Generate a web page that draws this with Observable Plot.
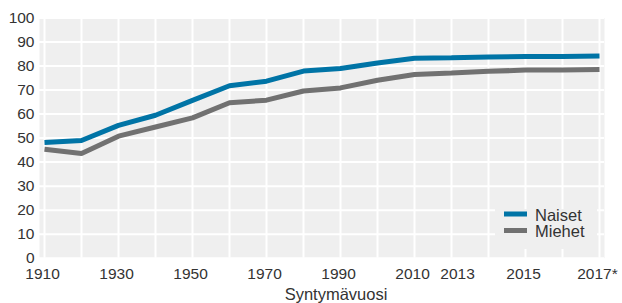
<!DOCTYPE html>
<html>
<head>
<meta charset="utf-8">
<script src="https://cdn.jsdelivr.net/npm/d3@7"></script>
<script src="https://cdn.jsdelivr.net/npm/@observablehq/plot@0.6"></script>
<style>
  html, body { margin: 0; padding: 0; background: #fff; }
  #chart svg { display: block; font-family: "Helvetica Neue", Helvetica, "Liberation Sans", Arial, sans-serif; }
</style>
</head>
<body>
<div id="chart"></div>
<script>
const years = ["1910","1920","1930","1940","1950","1960","1970","1980","1990","2000","2010","2013","2014","2015","2016","2017"];
const naiset = [48.2, 49.0, 55.3, 59.5, 65.7, 71.8, 73.7, 77.9, 79.0, 81.3, 83.2, 83.4, 83.8, 84.0, 84.0, 84.2];
const miehet = [45.4, 43.6, 50.8, 54.6, 58.4, 64.7, 65.8, 69.6, 70.9, 74.1, 76.5, 77.1, 77.8, 78.3, 78.3, 78.6];
const seriesNames = ["Naiset", "Miehet"];
const seriesColors = ["#0074a6", "#717171"];
const xTickLabels = ["1910","1930","1950","1970","1990","2010","2015","2017"];
const xTickShifted = ["2013"];
const yTicks = [0,10,20,30,40,50,60,70,80,90,100];
const xTitle = "Syntymävuosi";

const data = [];
years.forEach((y, i) => {
  data.push({year: y, value: naiset[i], series: seriesNames[0]});
});
years.forEach((y, i) => {
  data.push({year: y, value: miehet[i], series: seriesNames[1]});
});

const fmtX = d => d === "2017" ? "2017*" : d;

const chart = Plot.plot({
  width: 622,
  height: 303,
  marginLeft: 39,
  marginRight: 18,
  marginTop: 17.5,
  marginBottom: 45.3,
  style: {fontSize: "15px", color: "#333", background: "#fff"},
  x: {type: "point", domain: years, padding: 0, label: null},
  y: {domain: [0, 100], label: null},
  color: {domain: seriesNames, range: seriesColors},
  marks: [
    Plot.frame({fill: "#efefef", stroke: null}),
    Plot.gridX({stroke: "#fff", strokeOpacity: 1, strokeWidth: 2}),
    Plot.gridY(yTicks, {stroke: "#fff", strokeOpacity: 1, strokeWidth: 2}),
    Plot.axisY(yTicks, {tickSize: 0, tickPadding: 5, fontSize: 15.5, fill: "#333"}),
    Plot.axisX(xTickLabels, {tickSize: 0, tickPadding: 10, dx: -2, tickFormat: fmtX, fontSize: 15.5, fill: "#333"}),
    Plot.axisX(xTickShifted, {tickSize: 0, tickPadding: 10, dx: 6, fontSize: 15.5, fill: "#333"}),
    Plot.line(data, {x: "year", y: "value", z: "series", stroke: "series", strokeWidth: 5, strokeLinejoin: "miter", strokeLinecap: "butt"})
  ]
});

document.getElementById("chart").appendChild(chart);

// Legend inside the plot (bottom right) and x title
const svg = d3.select(chart);
const lg = svg.append("g").attr("text-anchor", "start");
lg.append("rect").attr("x", 495).attr("y", 209).attr("width", 102).attr("height", 40).attr("fill", "#efefef");
seriesNames.forEach((name, i) => {
  const cy = 214 + i * 16.5;
  lg.append("rect").attr("x", 504).attr("y", cy - 2.5).attr("width", 23).attr("height", 5).attr("fill", seriesColors[i]);
  lg.append("text").attr("x", 535).attr("y", cy + 1).attr("dy", "0.35em").attr("text-anchor", "start")
    .attr("font-size", 16.5).attr("fill", "#333").text(name);
});
svg.append("text").attr("x", 336).attr("y", 294).attr("dy", "0.35em").attr("text-anchor", "middle")
  .attr("font-size", 16.5).attr("fill", "#333").text(xTitle);
</script>
</body>
</html>
